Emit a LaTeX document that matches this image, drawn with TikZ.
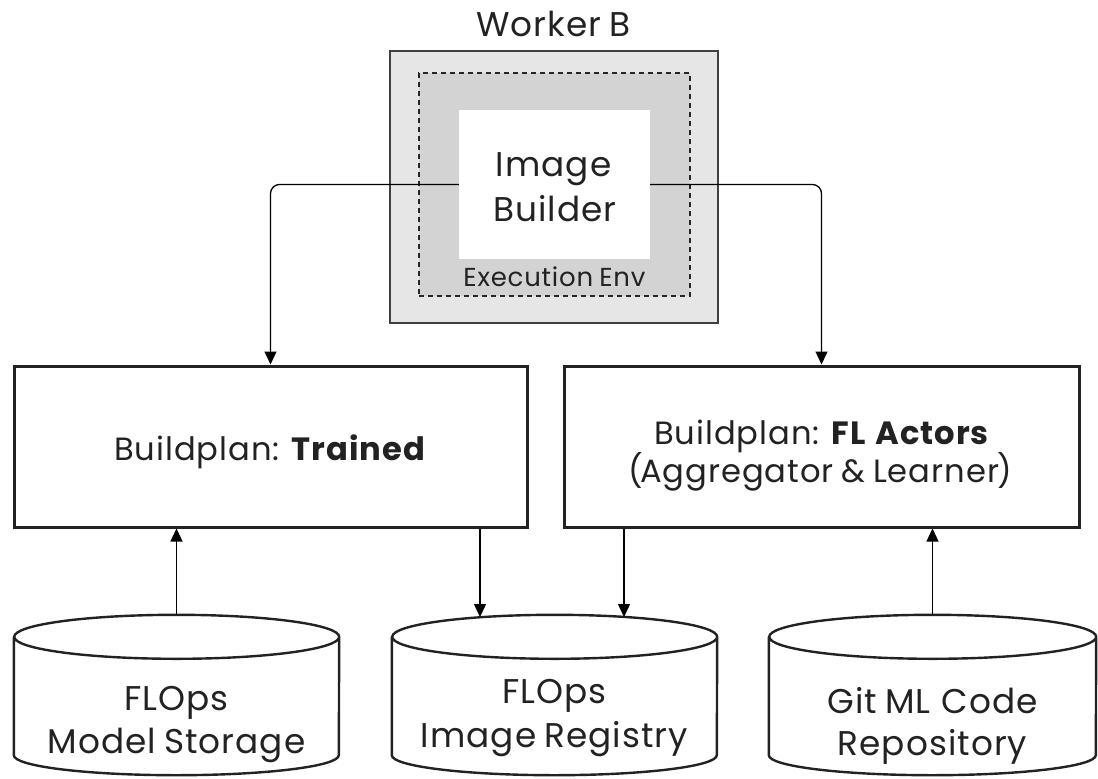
\documentclass[tikz,border=0pt]{standalone}
\usepackage{fontspec}
\setmainfont{Poppins}[LetterSpace=3,WordSpace=0.8]
\usetikzlibrary{arrows.meta}
\definecolor{workerfill}{HTML}{E6E6E6}
\definecolor{envfill}{HTML}{D3D3D3}
\definecolor{inkline}{HTML}{222222}
\newcommand\drawcyl[2]{%
  \draw[cylline] ([yshift=-22pt]#1.north west) -- ([yshift=20pt]#1.south west)
    arc[start angle=180,end angle=360,x radius=#2,y radius=20pt]
    -- ([yshift=-22pt]#1.north east)
    arc[start angle=0,end angle=180,x radius=#2,y radius=22pt]
    arc[start angle=180,end angle=360,x radius=#2,y radius=22pt];}
\begin{document}
\begin{tikzpicture}[x=1pt,y=-1pt,
  txt/.style={inner sep=0pt,anchor=base,text=inkline},
  big/.style={txt,font=\fontsize{34.3}{40}\selectfont},
  mid/.style={txt,font=\fontsize{32.2}{38}\selectfont},
  small/.style={txt,font=\fontsize{26}{30}\selectfont},
  planbox/.style={draw=inkline,line width=3pt,minimum height=161pt,inner sep=0pt},
  cylbody/.style={minimum width=#1,minimum height=160pt,inner sep=0pt},
  cylline/.style={draw=inkline,line width=2.4pt,fill=white},
  connector/.style={draw=black,line width=1.3pt,rounded corners=9pt},
  arr/.style={-{Triangle[length=13pt,width=12pt]}}]
\useasboundingbox (0,0) rectangle (1098,779);

% worker B with its execution environment
\node[big] (wlabel) at (553.5,36) {Worker B};
\node[draw=black!75,line width=1.5pt,fill=workerfill,minimum width=328pt,minimum height=272pt,inner sep=0pt] (worker) at (554,187) {};
\node[draw=black!85,line width=1.2pt,dash pattern=on 5pt off 4pt,fill=envfill,minimum width=271pt,minimum height=223pt,inner sep=0pt] (env) at (554.5,184.5) {};
\node[fill=white,minimum width=191pt,minimum height=149pt,inner sep=0pt] (ib) at (554.5,184.5) {};
\node[big] (ibl1) at (553.5,176) {Image};
\node[big] (ibl2) at (555,221) {Builder};
\node[small] (envl) at (554.5,286) {Execution Env};

% build plans
\node[planbox,minimum width=513pt] (tr) at (270.5,446.5) {};
\node[mid] (trl) at (270,460) {Buildplan: \textbf{Trained}};
\node[planbox,minimum width=515pt] (fl) at (821.5,446.5) {};
\node[mid] (fll1) at (822,444) {Buildplan: \textbf{FL\hspace{0.12em} Actors}};
\node[mid] (fll2) at (820.5,482) {(\kern-0.1em Aggregator \& Learner\kern-0.05em)};

% storage cylinders
\node[cylbody=325pt] (ms) at (176.5,695) {};
\node[cylbody=325pt] (ir) at (554.5,695) {};
\node[cylbody=327pt] (gr) at (932.5,695) {};
\drawcyl{ms}{162.5pt}
\drawcyl{ir}{162.5pt}
\drawcyl{gr}{163.5pt}
\node[big] (msl1) at (176.5,710) {FLOps};
\node[big] (msl2) at (176.5,753) {Model Storage};
\node[big] (irl1) at (554.5,703) {FLOps};
\node[big] (irl2) at (554.5,747) {Image Registry};
\node[big] (grl1) at (932.5,713) {Git ML\hspace{0.08em} Code};
\node[big] (grl2) at (932.5,755) {Repository};

% connectors
\coordinate (irin1) at (480,617);
\coordinate (irin2) at (624,617);
\draw[connector,arr] (ib.west) -| (tr.north);
\draw[connector,arr] (ib.east) -| (fl.north);
\draw[connector,arr] (ms.north) -- (ms.north |- tr.south);
\draw[connector,arr] (tr.south -| irin1) -- (irin1);
\draw[connector,arr] (fl.south -| irin2) -- (irin2);
\draw[connector,arr] (gr.north) -- (gr.north |- fl.south);
\end{tikzpicture}
\end{document}
